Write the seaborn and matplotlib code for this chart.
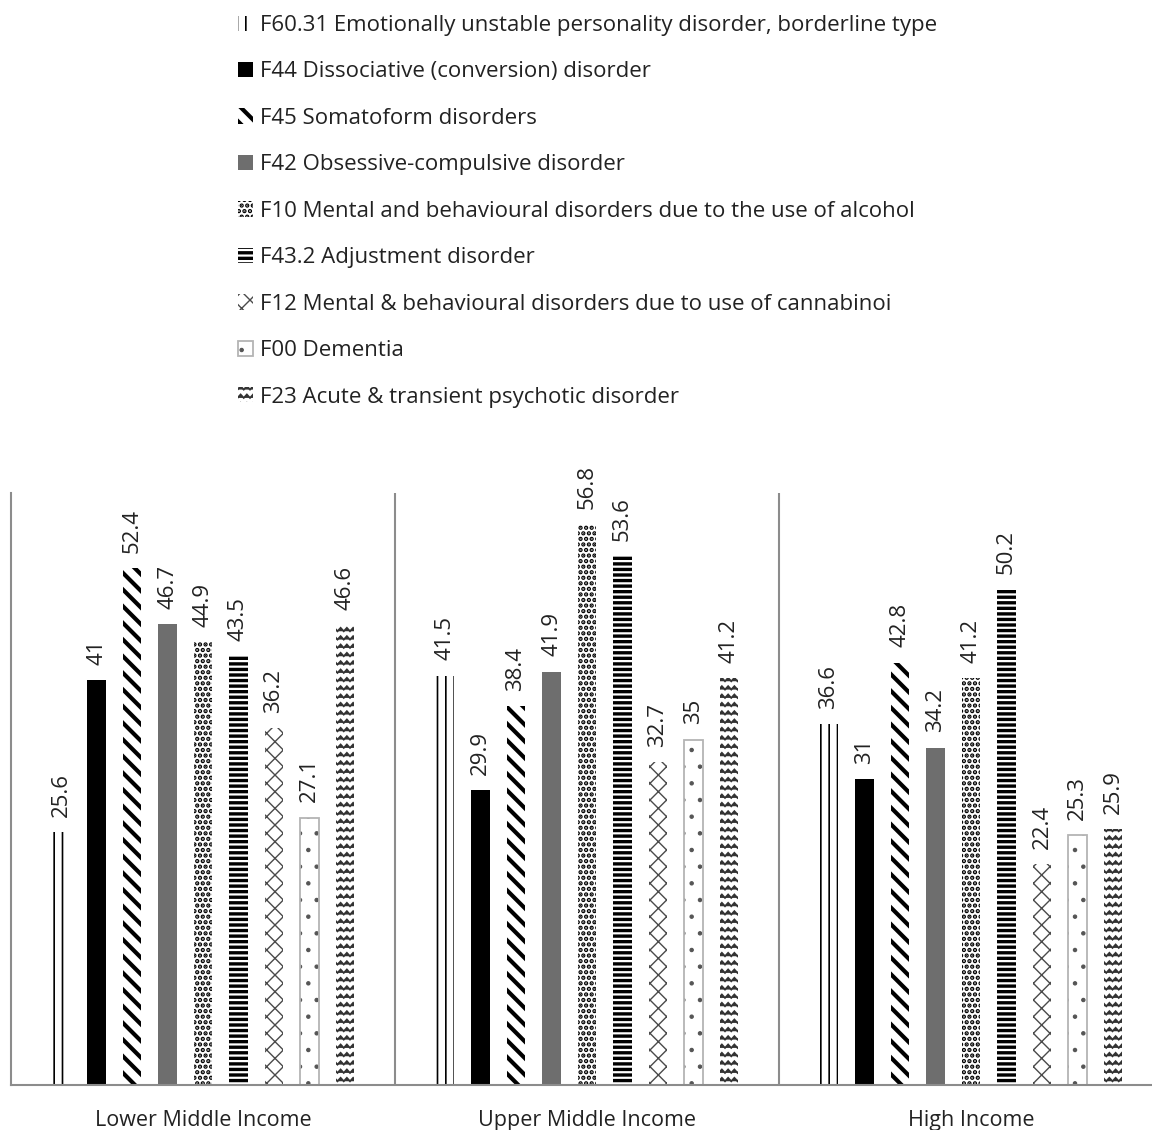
import warnings
import numpy as np
import pandas as pd
import matplotlib
matplotlib.use("Agg")
import matplotlib.pyplot as plt
from matplotlib import hatch as mhatch
from matplotlib.colors import to_rgba
from matplotlib.path import Path
import seaborn as sns

warnings.filterwarnings("ignore")

# ---- data -------------------------------------------------------------
income_groups = ["Lower Middle Income", "Upper Middle Income", "High Income"]

disorders = [
    "F60.31 Emotionally unstable personality disorder, borderline type",
    "F44 Dissociative (conversion) disorder",
    "F45 Somatoform disorders",
    "F42 Obsessive-compulsive disorder",
    "F10 Mental and behavioural disorders due to the use of alcohol",
    "F43.2 Adjustment disorder",
    "F12 Mental & behavioural disorders due to use of cannabinoi",
    "F00 Dementia",
    "F23 Acute & transient psychotic disorder",
]

lower_middle = [25.6, 41, 52.4, 46.7, 44.9, 43.5, 36.2, 27.1, 46.6]
upper_middle = [41.5, 29.9, 38.4, 41.9, 56.8, 53.6, 32.7, 35, 41.2]
high_income = [36.6, 31, 42.8, 34.2, 41.2, 50.2, 22.4, 25.3, 25.9]


# ---- zigzag hatch ("z") -------------------------------------------------
class ZigzagHatch(mhatch.HatchPatternBase):
    def __init__(self, hatch, density):
        self.num_rows = int(hatch.count("z") * density)
        self.num_teeth = 16
        self.per_row = 2 * self.num_teeth + 1
        self.num_vertices = self.num_rows * self.per_row

    def set_vertices_and_codes(self, vertices, codes):
        n, k = self.num_rows, self.num_teeth
        xs = np.linspace(0.0, 1.0, 2 * k + 1)
        amp = 0.034
        for i in range(n):
            y0 = (i + 0.25) / n
            ys = y0 + np.where(np.arange(2 * k + 1) % 2 == 1, amp, 0.0)
            sl = slice(i * self.per_row, (i + 1) * self.per_row)
            vertices[sl, 0] = xs
            vertices[sl, 1] = ys
            codes[sl] = Path.LINETO
            codes[i * self.per_row] = Path.MOVETO


mhatch._hatch_types.append(ZigzagHatch)

# ---- styling per disorder ---------------------------------------------
styles = [
    dict(face="white", edge="black", hatch="||", lw=0, hlw=1.2, hcol=None),
    dict(face="black", edge="black", hatch=None, lw=0, hlw=1.0, hcol=None),
    dict(face="white", edge="black", hatch="\\\\", lw=0, hlw=3.0, hcol=None),
    dict(face="#6e6e6e", edge="#6e6e6e", hatch=None, lw=0, hlw=1.0, hcol=None),
    dict(face="white", edge="black", hatch="...", lw=0, hlw=2.2, hcol=None),
    dict(face="white", edge="black", hatch="---", lw=0, hlw=2.4, hcol=None),
    dict(face="white", edge="#4a4a4a", hatch="xx", lw=0, hlw=1.0, hcol=None),
    dict(face="white", edge="#b4b4b4", hatch=".", lw=1.3, hlw=0.8, hcol="#555555"),
    dict(face="white", edge="#333333", hatch="zz", lw=0, hlw=1.3, hcol=None),
]

# ---- long-form table ----------------------------------------------------
rows = []
for grp, vals in zip(income_groups, [lower_middle, upper_middle, high_income]):
    for dis, v in zip(disorders, vals):
        rows.append({"income": grp, "disorder": dis, "value": v})
df = pd.DataFrame(rows)

sns.set_theme(style="white")
plt.rcParams["font.family"] = ["Open Sans", "DejaVu Sans"]
text_color = "#222222"

fig = plt.figure(figsize=(11.52, 11.30), dpi=100)
ax = fig.add_axes([11 / 1152, 45 / 1130, 1 - 11 / 1152, (1085 - 493) / 1130])

palette = {d: s["face"] for d, s in zip(disorders, styles)}
sns.barplot(
    data=df, x="income", y="value", hue="disorder",
    order=income_groups, hue_order=disorders, palette=palette,
    width=0.832, gap=0.49, errorbar=None, legend=False, ax=ax,
)


def style_patch(p, st):
    p.set_facecolor(st["face"])
    p.set_edgecolor(st["edge"])
    p.set_linewidth(st["lw"])
    if st["hatch"]:
        p.set_hatch(st["hatch"])
    if hasattr(p, "set_hatch_linewidth"):
        p.set_hatch_linewidth(st["hlw"])
    if st["hcol"] is not None:
        p._hatch_color = to_rgba(st["hcol"])


for cont, st in zip(ax.containers, styles):
    for p in cont.patches:
        style_patch(p, st)
    ax.bar_label(cont, fmt="%g", rotation=90, padding=11,
                 fontsize=16, color=text_color)

ax.set_xlim(-0.5, -0.5 + (1152 - 11) / 384)
ax.set_ylim(0, 60)
ax.set_xlabel("")
ax.set_ylabel("")
ax.set_yticks([])
ax.tick_params(axis="x", length=0, pad=18, labelsize=15.5, labelcolor=text_color)

for side in ["top", "right"]:
    ax.spines[side].set_visible(False)
for side in ["left", "bottom"]:
    ax.spines[side].set_visible(True)
    ax.spines[side].set_color("#8c8c8c")
    ax.spines[side].set_linewidth(1.5)
for xb in [0.5, 1.5]:
    ax.axvline(xb, color="#8c8c8c", lw=1.5, zorder=0)

# ---- legend -------------------------------------------------------------
handles = [c.patches[0] for c in ax.containers]
leg = fig.legend(
    handles, disorders, loc="upper left",
    bbox_to_anchor=(238 / 1152, 1 - 15 / 1130),
    frameon=False, fontsize=16, labelcolor=text_color,
    handlelength=0.68, handleheight=0.68, handletextpad=0.3,
    labelspacing=1.145, borderpad=0, borderaxespad=0,
)
for h, st in zip(leg.legend_handles, styles):
    style_patch(h, st)

fig.savefig("out.png", dpi=100)
